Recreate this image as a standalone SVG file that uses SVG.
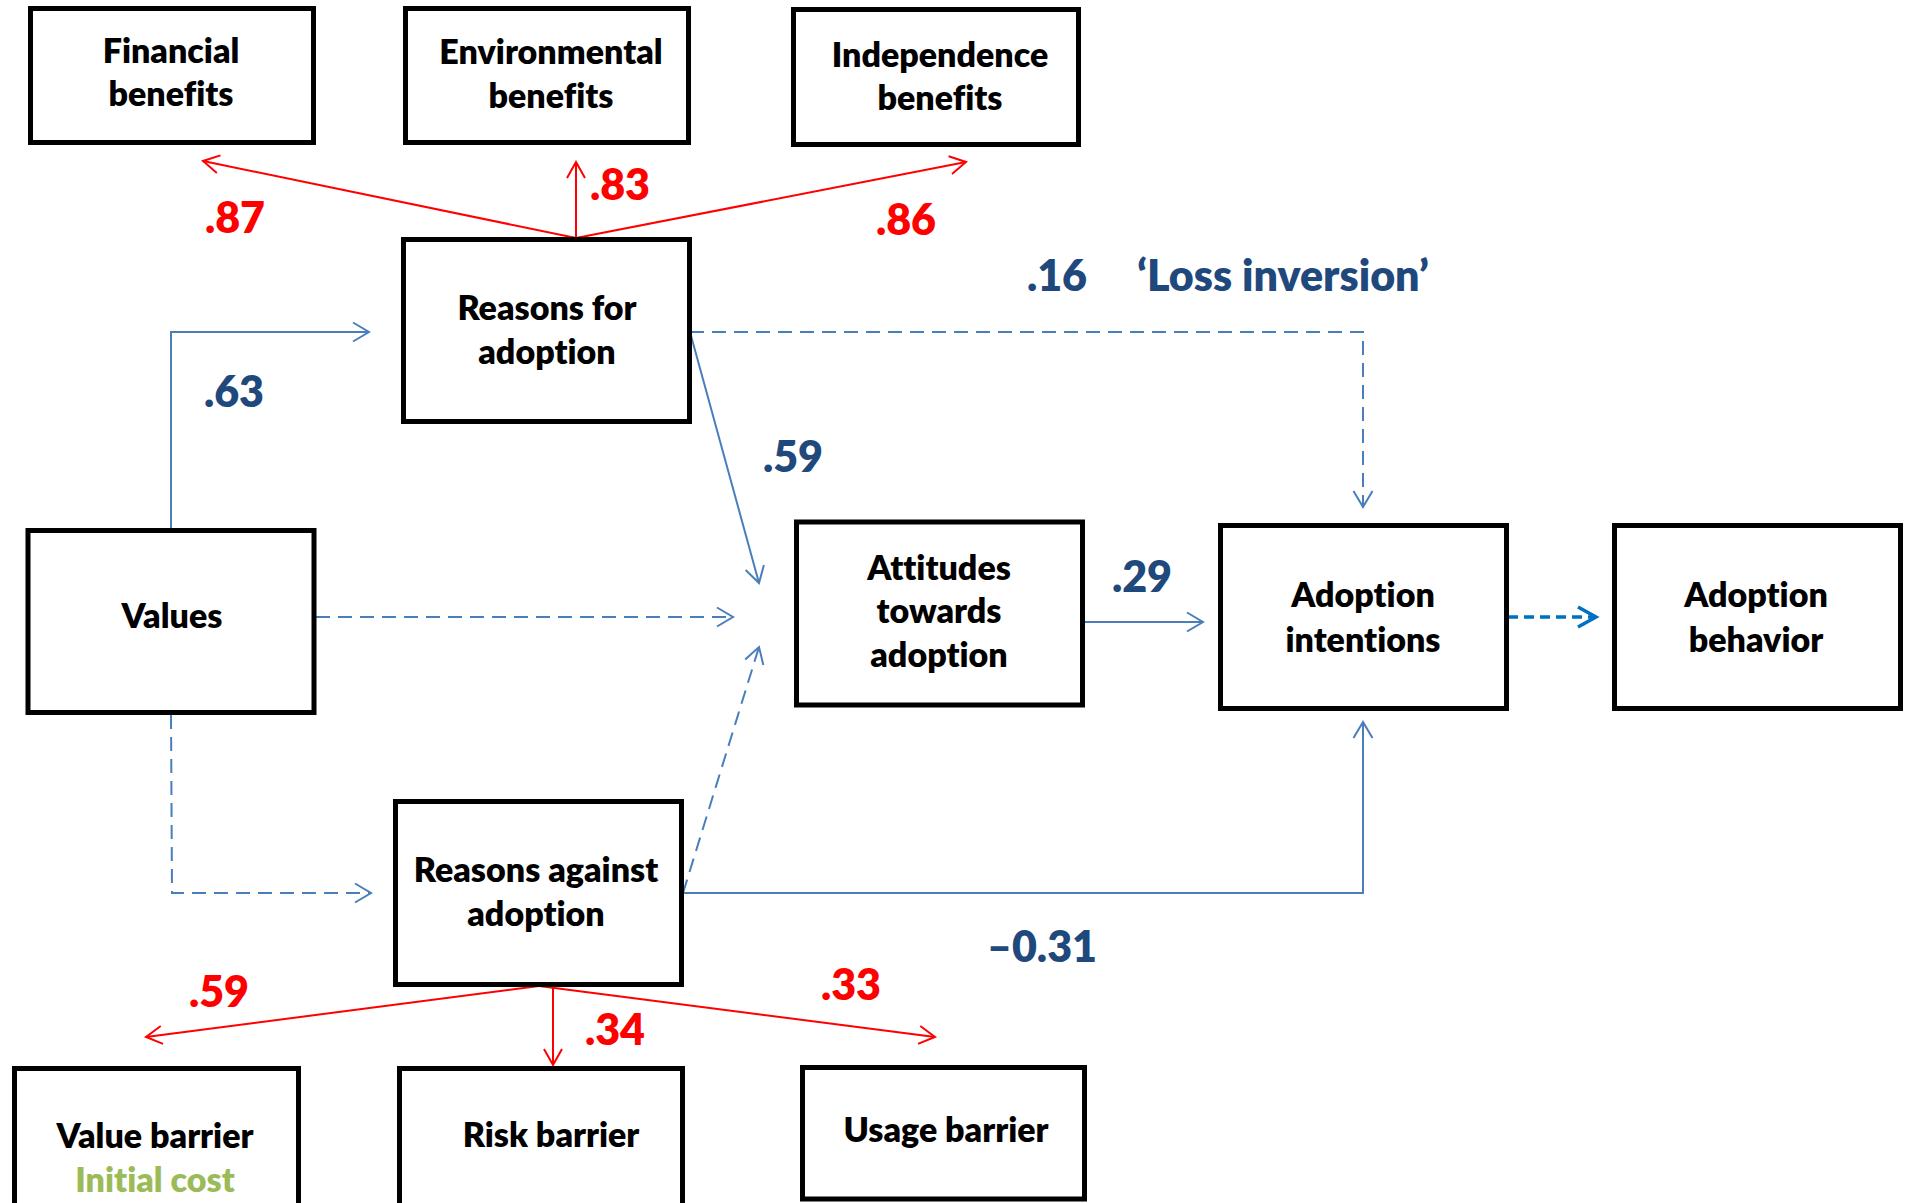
<svg xmlns="http://www.w3.org/2000/svg" width="1905" height="1203" viewBox="0 0 1905 1203">
<style>
text{font-variant-ligatures:none}
.box{fill:#fff;stroke:#000;stroke-width:5}
.t{font-family:Lato,"Open Sans","Liberation Sans",sans-serif;font-weight:800;font-size:34px;fill:#000;text-anchor:middle}
.g{fill:#9BBB59}
.num{font-family:Lato,"Open Sans","Liberation Sans",sans-serif;font-weight:800;font-size:43px;text-anchor:middle}
.red{fill:#FF0000}
.blue{fill:#1F497D}
.rl{fill:none;stroke:#FF0000;stroke-width:2;marker-end:url(#ar)}
.bl{fill:none;stroke:#4A7EBB;stroke-width:2;marker-end:url(#ab)}
.bd{fill:none;stroke:#4A7EBB;stroke-width:2;stroke-dasharray:14 8;marker-end:url(#ab)}
.bt{fill:none;stroke:#0070C0;stroke-width:3.5;stroke-dasharray:10 6;marker-end:url(#at)}
</style>
<defs>
<marker id="ar" markerUnits="userSpaceOnUse" markerWidth="40" markerHeight="40" refX="0" refY="0" orient="auto" overflow="visible">
<path d="M-16,-9 L0,0 L-16,9" fill="none" stroke="#FF0000" stroke-width="2"/>
</marker>
<marker id="ab" markerUnits="userSpaceOnUse" markerWidth="40" markerHeight="40" refX="0" refY="0" orient="auto" overflow="visible">
<path d="M-16,-9.5 L0,0 L-16,9.5" fill="none" stroke="#4A7EBB" stroke-width="2"/>
</marker>
<marker id="at" markerUnits="userSpaceOnUse" markerWidth="40" markerHeight="40" refX="0" refY="0" orient="auto" overflow="visible">
<path d="M-18,-10 L0,0 L-18,10" fill="none" stroke="#0070C0" stroke-width="3.5"/>
</marker>
</defs>
<rect width="1905" height="1203" fill="#fff"/>

<g id="connectors">
<path class="rl" d="M576,238 L203,161"/>
<path class="rl" d="M576,238 L576,162"/>
<path class="rl" d="M576,238 L966,162"/>
<path class="rl" d="M539,986 L146,1037"/>
<path class="rl" d="M553,986 L553,1065"/>
<path class="rl" d="M539,986 L935,1037"/>
<path class="bl" d="M171,530 L171,332 L369,332"/>
<path class="bl" d="M690,332 L759,583"/>
<path class="bd" d="M690,332 L1363,332 L1363,507"/>
<path class="bd" d="M316,617 L733,617"/>
<path class="bd" d="M683,893 L759,647"/>
<path class="bl" d="M683,893 L1363,893 L1363,722"/>
<path class="bd" d="M171,715 L172,893 L371,893"/>
<path class="bl" d="M1085,622 L1203,622"/>
<path class="bt" d="M1508,617 L1596,617"/>
</g>

<g id="labels">
<text class="num red" x="235" y="233">.87</text>
<text class="num red" x="620" y="200">.83</text>
<text class="num red" x="906" y="235">.86</text>
<text class="num blue" x="1057" y="291">.16</text>
<text class="num blue" x="1283" y="291">‘Loss inversion’</text>
<text class="num blue" x="234" y="407">.63</text>
<text class="num blue" x="793" y="472">.59</text>
<text class="num blue" x="1142" y="592">.29</text>
<text class="num blue" x="1042" y="962">–0.31</text>
<text class="num red" x="219" y="1007">.59</text>
<text class="num red" x="615" y="1045">.34</text>
<text class="num red" x="851" y="1000">.33</text>
</g>

<g id="financial">
<rect class="box" x="30.5" y="8.5" width="283" height="134"/>
<text class="t" x="171" y="63">Financial</text>
<text class="t" x="171" y="106">benefits</text>
</g>
<g id="environmental">
<rect class="box" x="405.5" y="8.5" width="283" height="134"/>
<text class="t" x="551" y="64">Environmental</text>
<text class="t" x="551" y="108">benefits</text>
</g>
<g id="independence">
<rect class="box" x="793.5" y="9.5" width="285" height="135"/>
<text class="t" x="940" y="67">Independence</text>
<text class="t" x="940" y="110">benefits</text>
</g>
<g id="reasons-for">
<rect class="box" x="403.5" y="239.5" width="286" height="182"/>
<text class="t" x="547" y="320">Reasons for</text>
<text class="t" x="547" y="364">adoption</text>
</g>
<g id="values">
<rect class="box" x="28" y="530.5" width="286" height="182"/>
<text class="t" x="172" y="628">Values</text>
</g>
<g id="attitudes">
<rect class="box" x="796.5" y="522" width="286" height="183"/>
<text class="t" x="939" y="580">Attitudes</text>
<text class="t" x="939" y="623">towards</text>
<text class="t" x="939" y="667">adoption</text>
</g>
<g id="intentions">
<rect class="box" x="1220.5" y="525.5" width="286" height="183"/>
<text class="t" x="1363" y="607">Adoption</text>
<text class="t" x="1363" y="652">intentions</text>
</g>
<g id="behavior">
<rect class="box" x="1614.5" y="525.5" width="286" height="183"/>
<text class="t" x="1756" y="607">Adoption</text>
<text class="t" x="1756" y="652">behavior</text>
</g>
<g id="reasons-against">
<rect class="box" x="395.5" y="801.5" width="286" height="183"/>
<text class="t" x="536" y="882">Reasons against</text>
<text class="t" x="536" y="926">adoption</text>
</g>
<g id="value-barrier">
<rect class="box" x="14.5" y="1068.5" width="284" height="160"/>
<text class="t" x="155" y="1148">Value barrier</text>
<text class="t g" x="155" y="1192">Initial cost</text>
</g>
<g id="risk-barrier">
<rect class="box" x="399.5" y="1068.5" width="283" height="160"/>
<text class="t" x="551" y="1147">Risk barrier</text>
</g>
<g id="usage-barrier">
<rect class="box" x="802.5" y="1067.5" width="282" height="131.5"/>
<text class="t" x="946" y="1142">Usage barrier</text>
</g>
</svg>
